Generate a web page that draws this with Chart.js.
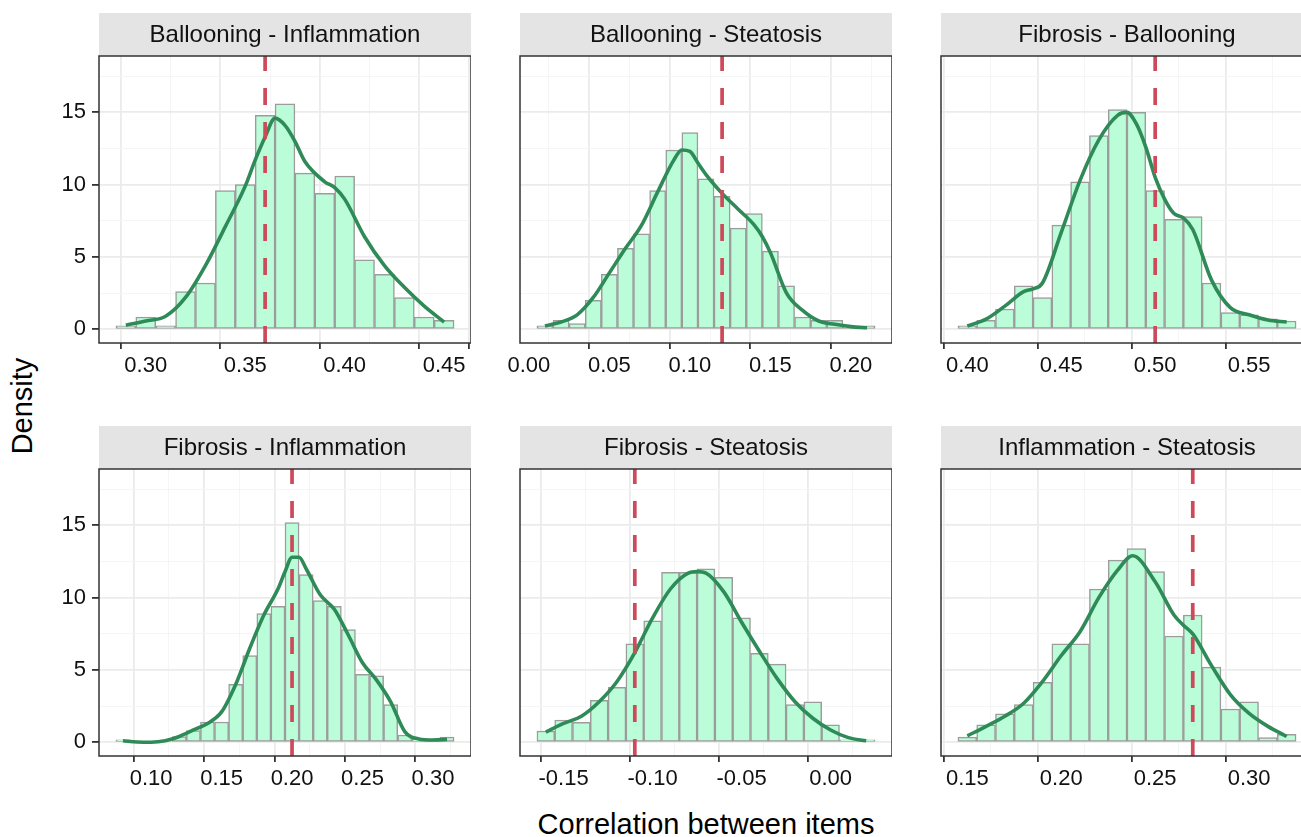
<!DOCTYPE html>
<html>
<head>
<meta charset="utf-8">
<script src="https://cdn.jsdelivr.net/npm/chart.js@4.4.1/dist/chart.umd.min.js"></script>
<style>
html, body { margin: 0; padding: 0; background: #fff; overflow: hidden; width: 1301px; height: 837px; }
.panel { position: absolute; }
.lab { position: absolute; font-family: 'Liberation Sans', Arial, sans-serif; color: #000; font-size: 29px; white-space: nowrap; }
</style>
</head>
<body>
<div class="lab" style="left:22px;top:406px;transform:translate(-50%,-50%) rotate(-90deg);">Density</div>
<div class="lab" style="left:706px;top:824px;transform:translate(-50%,-50%);">Correlation between items</div>
<script>
// facet titles and reference (observed) values
var titles = ['Ballooning - Inflammation', 'Ballooning - Steatosis', 'Fibrosis - Ballooning',
              'Fibrosis - Inflammation', 'Fibrosis - Steatosis', 'Inflammation - Steatosis'];
var refLines = [0.36, 0.12, 0.50, 0.20, -0.11, 0.27];

// Ballooning - Inflammation
var biBins = [0.29, 0.30, 0.31, 0.32, 0.33, 0.34, 0.35, 0.36, 0.37, 0.38, 0.39, 0.40, 0.41, 0.42, 0.43, 0.44, 0.45];
var biHist = [0.23, 0.85, 0.23, 2.6, 3.2, 9.6, 10.0, 14.8, 15.6, 10.8, 9.4, 10.6, 4.8, 3.8, 2.2, 0.85, 0.62];
var biDensX = [0.29, 0.30, 0.31, 0.32, 0.33, 0.34, 0.35, 0.355, 0.36, 0.365, 0.37, 0.375, 0.38, 0.39, 0.395, 0.40, 0.41, 0.42, 0.43, 0.44, 0.45];
var biDensY = [0.28, 0.57, 0.9, 2.2, 4.4, 7.1, 9.9, 11.7, 13.3, 14.6, 14.1, 13.0, 11.6, 10.2, 9.8, 9.0, 6.4, 4.4, 2.9, 1.6, 0.5];

// Ballooning - Steatosis
var bsBins = [0.01, 0.02, 0.03, 0.04, 0.05, 0.06, 0.07, 0.08, 0.09, 0.10, 0.11, 0.12, 0.13, 0.14, 0.15, 0.16, 0.17, 0.18, 0.19, 0.20, 0.21];
var bsHist = [0.23, 0.62, 0.4, 2.0, 3.8, 5.6, 6.6, 9.6, 12.4, 13.6, 10.4, 9.2, 7.0, 8.0, 5.4, 3.0, 0.85, 0.62, 0.62, 0.23, 0.23];
var bsDensX = [0.01, 0.02, 0.03, 0.04, 0.05, 0.06, 0.07, 0.08, 0.09, 0.095, 0.10, 0.105, 0.11, 0.12, 0.13, 0.14, 0.145, 0.15, 0.16, 0.17, 0.18, 0.19, 0.20, 0.21];
var bsDensY = [0.23, 0.5, 1.0, 2.2, 3.9, 5.6, 7.2, 9.5, 11.7, 12.4, 12.3, 11.5, 10.7, 9.4, 8.3, 7.2, 6.4, 5.3, 2.5, 1.3, 0.57, 0.34, 0.18, 0.1];

// Fibrosis - Ballooning
var fbBins = [0.40, 0.41, 0.42, 0.43, 0.44, 0.45, 0.46, 0.47, 0.48, 0.49, 0.50, 0.51, 0.52, 0.53, 0.54, 0.55, 0.56, 0.57];
var fbHist = [0.23, 0.62, 1.4, 3.0, 2.2, 7.2, 10.2, 13.4, 15.2, 15.0, 9.6, 7.6, 7.8, 3.2, 1.15, 1.0, 0.73, 0.57];
var fbDensX = [0.40, 0.41, 0.42, 0.43, 0.435, 0.44, 0.45, 0.46, 0.47, 0.48, 0.485, 0.49, 0.495, 0.50, 0.505, 0.51, 0.515, 0.52, 0.53, 0.54, 0.55, 0.56, 0.57];
var fbDensY = [0.23, 0.7, 1.6, 2.6, 2.8, 3.2, 6.7, 10.3, 13.1, 14.8, 15.0, 14.2, 12.6, 10.5, 9.0, 8.0, 7.7, 6.9, 3.4, 1.5, 1.0, 0.64, 0.5];

// Fibrosis - Inflammation
var fiBins = [0.08, 0.09, 0.10, 0.11, 0.12, 0.13, 0.14, 0.15, 0.16, 0.17, 0.18, 0.19, 0.20, 0.21, 0.22, 0.23, 0.24, 0.25, 0.26, 0.27, 0.28, 0.29, 0.30, 0.31];
var fiHist = [0.16, 0, 0, 0, 0.4, 0.8, 1.4, 1.4, 4.0, 6.0, 8.9, 9.4, 15.2, 11.6, 9.8, 9.4, 7.8, 4.7, 4.6, 2.6, 0.5, 0.2, 0.2, 0.35];
var fiDensX = [0.08, 0.09, 0.10, 0.11, 0.12, 0.13, 0.14, 0.15, 0.16, 0.17, 0.18, 0.19, 0.195, 0.20, 0.205, 0.21, 0.22, 0.23, 0.24, 0.25, 0.26, 0.27, 0.28, 0.29, 0.30, 0.31];
var fiDensY = [0.1, 0.02, 0, 0.1, 0.4, 0.85, 1.3, 2.1, 4.0, 6.5, 8.8, 10.6, 11.8, 12.8, 12.8, 12.0, 10.2, 9.2, 7.4, 5.5, 4.3, 2.8, 0.74, 0.23, 0.16, 0.2];

// Fibrosis - Steatosis
var fsBins = [-0.16, -0.15, -0.14, -0.13, -0.12, -0.11, -0.10, -0.09, -0.08, -0.07, -0.06, -0.05, -0.04, -0.03, -0.02, -0.01, 0.00, 0.01, 0.02];
var fsHist = [0.78, 1.54, 1.38, 2.9, 3.8, 6.8, 8.4, 11.75, 11.75, 12.0, 11.4, 8.6, 6.15, 5.4, 2.6, 2.8, 1.2, 0.16, 0.16];
var fsDensX = [-0.16, -0.15, -0.14, -0.13, -0.12, -0.11, -0.10, -0.09, -0.08, -0.075, -0.07, -0.06, -0.05, -0.04, -0.03, -0.02, -0.01, 0.00, 0.01, 0.02];
var fsDensY = [0.7, 1.3, 1.8, 2.8, 4.2, 6.2, 8.6, 10.6, 11.7, 11.8, 11.7, 10.4, 8.3, 6.3, 4.4, 2.8, 1.66, 0.85, 0.32, 0.1];

// Inflammation - Steatosis
var isBins = [0.15, 0.16, 0.17, 0.18, 0.19, 0.20, 0.21, 0.22, 0.23, 0.24, 0.25, 0.26, 0.27, 0.28, 0.29, 0.30, 0.31, 0.32];
var isHist = [0.35, 1.2, 1.96, 2.6, 4.15, 6.8, 6.8, 10.6, 12.6, 13.4, 11.8, 7.35, 8.8, 5.2, 2.3, 2.8, 0.32, 0.55];
var isDensX = [0.15, 0.16, 0.17, 0.18, 0.19, 0.20, 0.21, 0.22, 0.23, 0.238, 0.25, 0.26, 0.265, 0.27, 0.28, 0.29, 0.30, 0.31, 0.32];
var isDensY = [0.44, 1.1, 1.8, 2.7, 4.2, 6.0, 7.65, 10.0, 11.9, 12.9, 11.1, 8.8, 8.1, 7.5, 5.3, 3.3, 2.0, 1.1, 0.4];

// layout of the facet grid (pixels)
var colLeft = [99, 520, 941];
var rowTop = [56, 469];
var panelW = 372, panelH = 287, stripH = 43, axisW = 70, axisH = 50;
var binW = 0.01, yMin = -0.95, yMax = 18.9;

Chart.defaults.font.family = "'Liberation Sans', Arial, sans-serif";
Chart.defaults.font.size = 22;
Chart.defaults.color = '#111';

function isMajor(c, step) {
  if (!c || !c.tick) return true;
  var v = c.tick.value;
  return Math.abs(v / step - Math.round(v / step)) < 1e-6;
}

// grey strip with the facet title + dark frame round the panel
var stripPlugin = {
  id: 'strip',
  beforeDraw: function(chart, args, opts) {
    var ctx = chart.ctx, a = chart.chartArea;
    ctx.save();
    ctx.fillStyle = '#e4e4e4';
    ctx.fillRect(a.left, a.top - stripH, a.right - a.left, stripH);
    ctx.fillStyle = '#111';
    ctx.font = "24px 'Liberation Sans', Arial, sans-serif";
    ctx.textAlign = 'center';
    ctx.textBaseline = 'middle';
    ctx.fillText(opts.text, (a.left + a.right) / 2, a.top - stripH / 2 + 1);
    ctx.restore();
  },
  afterDraw: function(chart) {
    var ctx = chart.ctx, a = chart.chartArea;
    ctx.save();
    ctx.strokeStyle = '#333';
    ctx.lineWidth = 1.5;
    ctx.strokeRect(a.left, a.top, a.right - a.left, a.bottom - a.top);
    ctx.restore();
  }
};

function drawPanel(i, bins, hist, densX, densY) {
  var col = i % 3, row = Math.floor(i / 3);
  var box = document.createElement('div');
  box.className = 'panel';
  box.style.left = (colLeft[col] - axisW) + 'px';
  box.style.top = (rowTop[row] - stripH) + 'px';
  var cv = document.createElement('canvas');
  cv.width = axisW + panelW;
  cv.height = stripH + panelH + axisH;
  box.appendChild(cv);
  document.body.appendChild(box);

  var lo = bins[0] - binW / 2, hi = bins[bins.length - 1] + binW / 2;
  var pad = (hi - lo) * 0.05;
  var ref = refLines[i];

  new Chart(cv, {
    type: 'bar',
    data: {
      datasets: [
        {
          type: 'bar',
          data: bins.map(function(b, k) { return {x: b, y: hist[k]}; }),
          backgroundColor: 'rgb(187,253,216)',
          borderColor: '#9c9c9c',
          borderWidth: 1.5,
          borderSkipped: false,
          barPercentage: 1,
          categoryPercentage: 1,
          order: 3
        },
        {
          type: 'line',
          data: densX.map(function(x, k) { return {x: x, y: densY[k]}; }),
          borderColor: '#2e8b57',
          borderWidth: 3.6,
          pointRadius: 0,
          cubicInterpolationMode: 'monotone',
          order: 2
        },
        {
          type: 'line',
          data: [{x: ref, y: yMax}, {x: ref, y: yMin}],
          borderColor: '#cd4a5a',
          borderWidth: 3.7,
          borderDash: [17, 17],
          borderDashOffset: 2,
          pointRadius: 0,
          order: 1
        }
      ]
    },
    options: {
      responsive: false,
      animation: false,
      layout: { padding: { top: stripH, left: 0, right: 0, bottom: 0 } },
      plugins: { legend: { display: false }, tooltip: { enabled: false }, strip: { text: titles[i] } },
      scales: {
        x: {
          type: 'linear',
          min: lo - pad,
          max: hi + pad,
          offset: false,
          afterFit: function(s) { s.height = axisH; s.paddingLeft = 0; s.paddingRight = 0; },
          border: { display: false, color: '#333' },
          grid: {
            color: function(c) { return isMajor(c, 0.05) ? '#ebebeb' : '#f4f4f4'; },
            lineWidth: function(c) { return isMajor(c, 0.05) ? 1.8 : 0.9; },
            tickLength: 6,
            tickColor: function(c) { return isMajor(c, 0.05) ? '#333' : 'rgba(0,0,0,0)'; }
          },
          ticks: {
            stepSize: 0.025,
            includeBounds: false,
            autoSkip: false,
            maxRotation: 0,
            padding: 4,
            callback: function(v) {
              if (Math.abs(v / 0.05 - Math.round(v / 0.05)) > 1e-6) return '';
              return (Math.abs(v) < 1e-9 ? 0 : v).toFixed(2);
            }
          }
        },
        y: {
          type: 'linear',
          min: yMin,
          max: yMax,
          afterFit: function(s) { s.width = axisW; s.paddingTop = 0; s.paddingBottom = 0; },
          border: { display: false, color: '#333' },
          grid: {
            color: function(c) { return isMajor(c, 5) ? '#ebebeb' : '#f4f4f4'; },
            lineWidth: function(c) { return isMajor(c, 5) ? 1.8 : 0.9; },
            tickLength: 7,
            tickColor: function(c) { return (col === 0 && isMajor(c, 5)) ? '#333' : 'rgba(0,0,0,0)'; }
          },
          ticks: {
            stepSize: 2.5,
            includeBounds: false,
            display: col === 0,
            padding: 6,
            callback: function(v) { return Math.abs(v / 5 - Math.round(v / 5)) < 1e-6 ? String(Math.round(v)) : ''; }
          }
        }
      }
    },
    plugins: [stripPlugin]
  });
}

drawPanel(0, biBins, biHist, biDensX, biDensY);
drawPanel(1, bsBins, bsHist, bsDensX, bsDensY);
drawPanel(2, fbBins, fbHist, fbDensX, fbDensY);
drawPanel(3, fiBins, fiHist, fiDensX, fiDensY);
drawPanel(4, fsBins, fsHist, fsDensX, fsDensY);
drawPanel(5, isBins, isHist, isDensX, isDensY);
</script>
</body>
</html>
